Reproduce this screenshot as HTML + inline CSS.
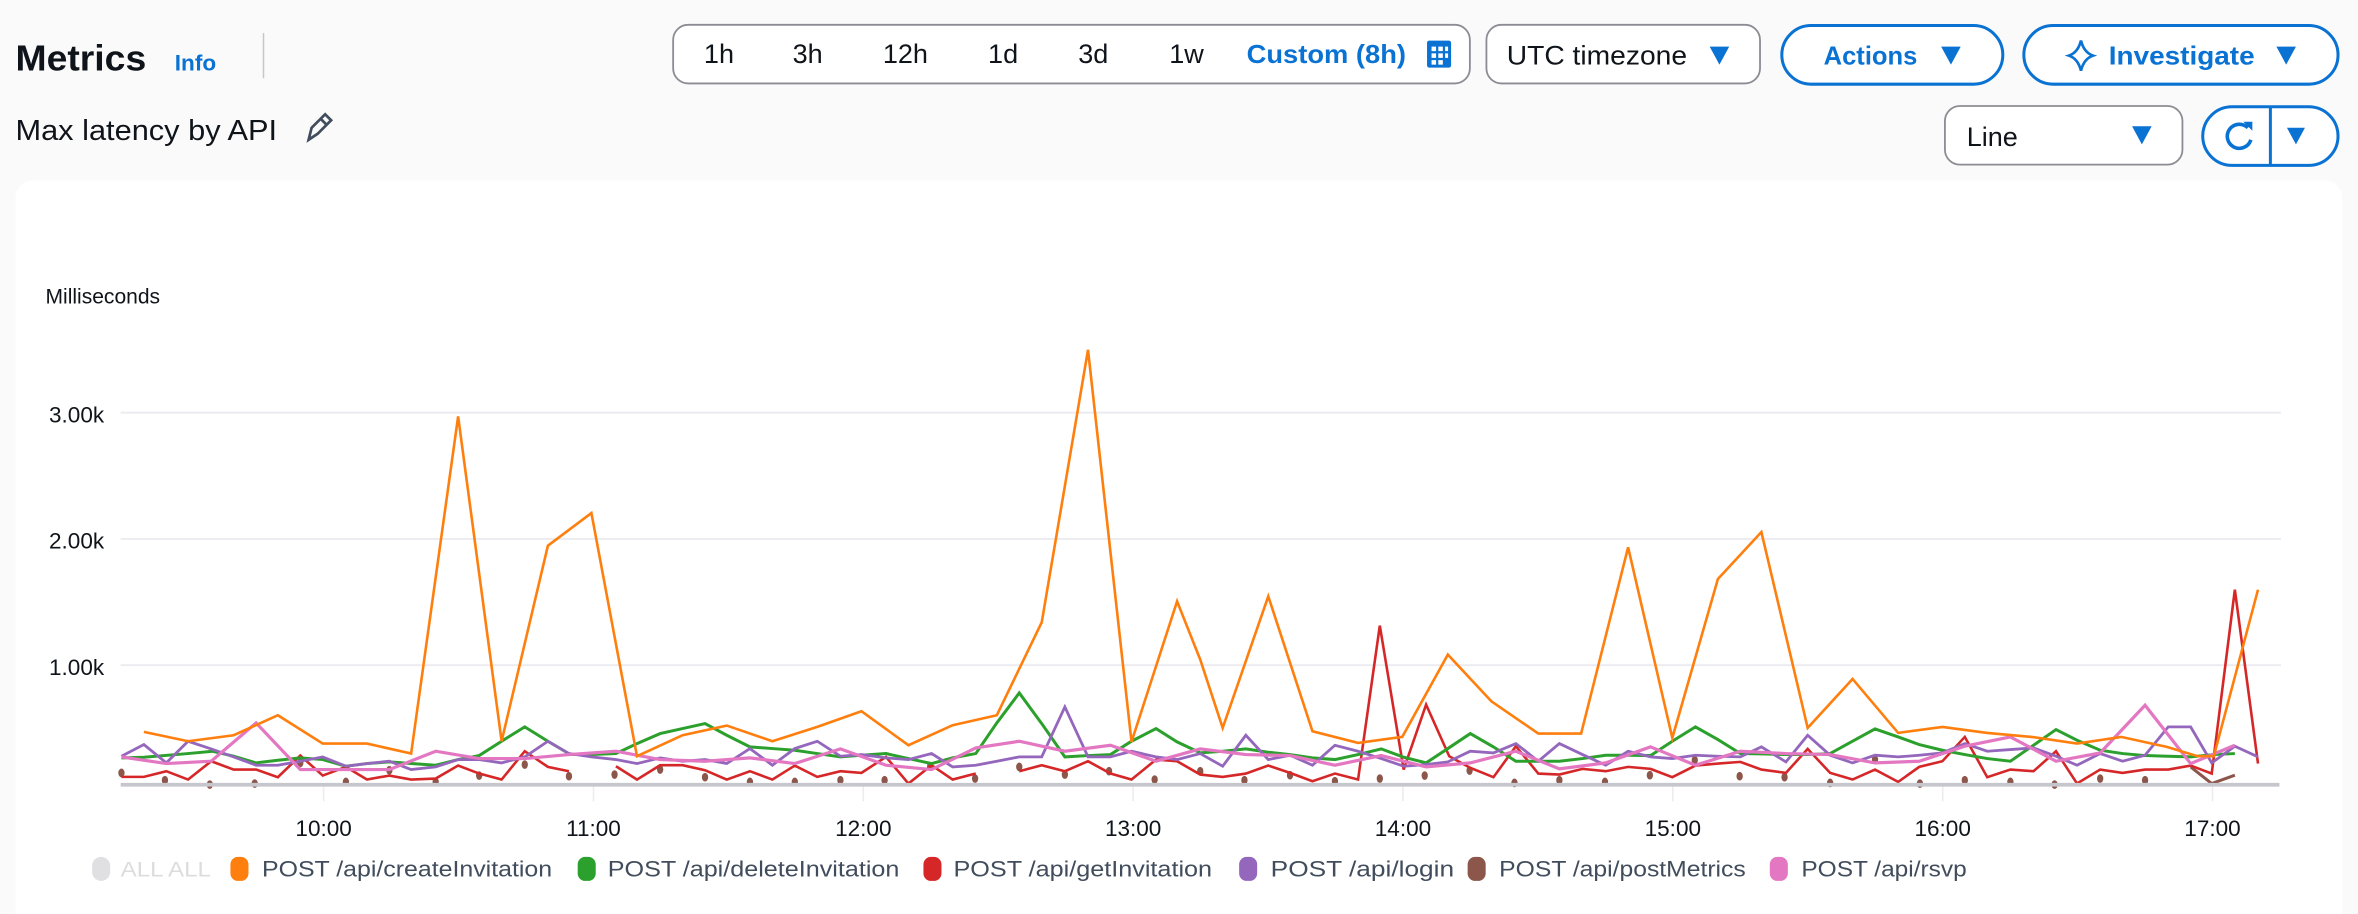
<!DOCTYPE html>
<html><head><meta charset="utf-8"><style>
html,body{margin:0;padding:0;background:#fafafa;}
svg{display:block;}
text{font-family:"Liberation Sans",sans-serif;}
.s{fill:none;vector-effect:non-scaling-stroke;stroke-linejoin:miter;}
</style></head><body>
<svg width="2358" height="914" viewBox="0 0 1568 608" xmlns="http://www.w3.org/2000/svg">
<rect width="1568" height="608" fill="#fafafa"/>
<!-- header -->
<text x="10" y="47" font-size="24" font-weight="bold" fill="#0f141a" textLength="87" lengthAdjust="spacingAndGlyphs">Metrics</text>
<text x="116" y="47" font-size="15" font-weight="bold" fill="#0972d3">Info</text>
<line x1="175" y1="22" x2="175" y2="52" stroke="#c6c6cd" stroke-width="1"/>
<rect x="447.5" y="16.5" width="530" height="39" rx="10" fill="#fff" stroke="#8c8c94" stroke-width="1.2"/>
<g font-size="18" fill="#0f141a" text-anchor="middle">
<text x="478" y="42">1h</text><text x="537" y="42">3h</text><text x="602" y="42">12h</text>
<text x="667" y="42">1d</text><text x="727" y="42">3d</text><text x="789" y="42">1w</text>
</g>
<text x="882" y="42" font-size="17" font-weight="bold" fill="#0972d3" text-anchor="middle" textLength="106" lengthAdjust="spacingAndGlyphs">Custom (8h)</text>
<rect x="949" y="27" width="16" height="18" rx="1.5" fill="#0972d3"/>
<g fill="#fff"><rect x="952" y="31" width="3" height="3"/><rect x="956.5" y="31" width="3" height="3"/><rect x="961" y="31" width="2" height="3"/>
<rect x="952" y="35.5" width="3" height="3"/><rect x="956.5" y="35.5" width="3" height="3"/><rect x="961" y="35.5" width="2" height="3"/>
<rect x="952" y="40" width="3" height="3"/><rect x="956.5" y="40" width="3" height="3"/></g>
<rect x="988.5" y="16.5" width="182" height="39" rx="10" fill="#fff" stroke="#8c8c94" stroke-width="1.2"/>
<text x="1002" y="43" font-size="18" fill="#0f141a" textLength="120" lengthAdjust="spacingAndGlyphs">UTC timezone</text>
<path d="M1137,31 L1150,31 L1143.5,43 Z" fill="#0972d3"/>
<rect x="1185" y="17" width="147" height="39" rx="19.5" fill="#fff" stroke="#0972d3" stroke-width="2"/>
<text x="1244" y="43" font-size="17" font-weight="bold" fill="#0972d3" text-anchor="middle">Actions</text>
<path d="M1291,31 L1304,31 L1297.5,43 Z" fill="#0972d3"/>
<rect x="1346" y="17" width="209" height="39" rx="19.5" fill="#fff" stroke="#0972d3" stroke-width="2"/>
<path d="M1384,27 Q1386,35 1392,37 Q1386,39 1384,47 Q1382,39 1376,37 Q1382,35 1384,27 Z" fill="none" stroke="#0972d3" stroke-width="1.8"/>
<text x="1451" y="43" font-size="17" font-weight="bold" fill="#0972d3" text-anchor="middle" textLength="97" lengthAdjust="spacingAndGlyphs">Investigate</text>
<path d="M1514,31 L1527,31 L1520.5,43 Z" fill="#0972d3"/>
<text x="10" y="93" font-size="19" fill="#0f141a" textLength="174" lengthAdjust="spacingAndGlyphs">Max latency by API</text>
<path d="M205,93 L207,85 L216,76 L220,80 L211,89 Z M213,79 L217,83" fill="none" stroke="#414d5c" stroke-width="1.8"/>
<rect x="1293.5" y="70.5" width="158" height="39" rx="10" fill="#fff" stroke="#8c8c94" stroke-width="1.2"/>
<text x="1308" y="97" font-size="18" fill="#0f141a">Line</text>
<path d="M1418,84 L1431,84 L1424.5,96 Z" fill="#0972d3"/>
<rect x="1465" y="71" width="90" height="39" rx="19.5" fill="#fff" stroke="#0972d3" stroke-width="2"/>
<line x1="1510" y1="71" x2="1510" y2="110" stroke="#0972d3" stroke-width="2"/>
<path d="M1495,85 A8,8 0 1 0 1497,93" fill="none" stroke="#0972d3" stroke-width="2.4"/>
<path d="M1492,81 L1498,81 L1498,87 Z" fill="#0972d3"/>
<path d="M1521,85 L1533,85 L1527,96 Z" fill="#0972d3"/>
<!-- card -->
<rect x="10" y="120" width="1548" height="500" rx="12" fill="#fff"/>
<text x="30" y="202" font-size="14" fill="#0f141a">Milliseconds</text>
<g font-size="15" fill="#0f141a" text-anchor="end">
<text x="69" y="281">3.00k</text><text x="69" y="365">2.00k</text><text x="69" y="449">1.00k</text>
</g>
<g stroke="#ebebf0" stroke-width="1.3">
<line x1="80" y1="274.5" x2="1517" y2="274.5"/><line x1="80" y1="358.5" x2="1517" y2="358.5"/><line x1="80" y1="442.5" x2="1517" y2="442.5"/>
</g>
<g stroke="#ebebf0" stroke-width="1">
<line x1="215" y1="522" x2="215" y2="533"/><line x1="394.5" y1="522" x2="394.5" y2="533"/><line x1="574" y1="522" x2="574" y2="533"/><line x1="753.5" y1="522" x2="753.5" y2="533"/>
<line x1="933" y1="522" x2="933" y2="533"/><line x1="1112.5" y1="522" x2="1112.5" y2="533"/><line x1="1292" y1="522" x2="1292" y2="533"/><line x1="1471.5" y1="522" x2="1471.5" y2="533"/>
</g>
<g font-size="15" fill="#0f141a" text-anchor="middle">
<text x="215" y="556">10:00</text><text x="394.5" y="556">11:00</text><text x="574" y="556">12:00</text><text x="753.5" y="556">13:00</text>
<text x="933" y="556">14:00</text><text x="1112.5" y="556">15:00</text><text x="1292" y="556">16:00</text><text x="1471.5" y="556">17:00</text>
</g>
<!-- series -->
<g transform="matrix(0.4666,0,0,0.2216,66.5,219.4)">
<g fill="#8c564b">
<ellipse cx="30" cy="1330" rx="4.5" ry="13"/><ellipse cx="92" cy="1352" rx="4.5" ry="13"/><ellipse cx="156" cy="1365" rx="4.5" ry="13"/><ellipse cx="220" cy="1362" rx="4.5" ry="13"/><ellipse cx="285" cy="1300" rx="4.5" ry="13"/><ellipse cx="350" cy="1357" rx="4.5" ry="13"/><ellipse cx="412" cy="1322" rx="4.5" ry="13"/><ellipse cx="478" cy="1357" rx="4.5" ry="13"/><ellipse cx="540" cy="1338" rx="4.5" ry="13"/><ellipse cx="605" cy="1305" rx="4.5" ry="13"/><ellipse cx="668" cy="1340" rx="4.5" ry="13"/><ellipse cx="733" cy="1335" rx="4.5" ry="13"/><ellipse cx="798" cy="1320" rx="4.5" ry="13"/><ellipse cx="862" cy="1343" rx="4.5" ry="13"/><ellipse cx="926" cy="1357" rx="4.5" ry="13"/><ellipse cx="990" cy="1357" rx="4.5" ry="13"/><ellipse cx="1055" cy="1352" rx="4.5" ry="13"/><ellipse cx="1118" cy="1352" rx="4.5" ry="13"/><ellipse cx="1183" cy="1310" rx="4.5" ry="13"/><ellipse cx="1247" cy="1347" rx="4.5" ry="13"/><ellipse cx="1310" cy="1312" rx="4.5" ry="13"/><ellipse cx="1375" cy="1335" rx="4.5" ry="13"/><ellipse cx="1438" cy="1325" rx="4.5" ry="13"/><ellipse cx="1503" cy="1350" rx="4.5" ry="13"/>
<ellipse cx="1568" cy="1325" rx="4.5" ry="13"/><ellipse cx="1631" cy="1352" rx="4.5" ry="13"/><ellipse cx="1696" cy="1337" rx="4.5" ry="13"/><ellipse cx="1760" cy="1355" rx="4.5" ry="13"/><ellipse cx="1824" cy="1347" rx="4.5" ry="13"/><ellipse cx="1888" cy="1338" rx="4.5" ry="13"/><ellipse cx="1952" cy="1323" rx="4.5" ry="13"/><ellipse cx="2016" cy="1360" rx="4.5" ry="13"/><ellipse cx="2080" cy="1352" rx="4.5" ry="13"/><ellipse cx="2145" cy="1357" rx="4.5" ry="13"/><ellipse cx="2209" cy="1337" rx="4.5" ry="13"/><ellipse cx="2273" cy="1292" rx="4.5" ry="13"/><ellipse cx="2337" cy="1340" rx="4.5" ry="13"/><ellipse cx="2401" cy="1343" rx="4.5" ry="13"/><ellipse cx="2466" cy="1360" rx="4.5" ry="13"/><ellipse cx="2530" cy="1290" rx="4.5" ry="13"/><ellipse cx="2594" cy="1362" rx="4.5" ry="13"/><ellipse cx="2658" cy="1352" rx="4.5" ry="13"/><ellipse cx="2723" cy="1357" rx="4.5" ry="13"/><ellipse cx="2786" cy="1365" rx="4.5" ry="13"/><ellipse cx="2851" cy="1347" rx="4.5" ry="13"/><ellipse cx="2915" cy="1352" rx="4.5" ry="13"/>
</g>
<path class="s" stroke="#8c564b" stroke-width="3" d="M2980,1312 L3010,1362 3043,1337"/>
<path class="s" stroke="#d62728" stroke-width="2.6" d="M30,1342 L62,1342 94,1325 125,1350 158,1295 190,1320 222,1320 253,1343 285,1278 317,1338 350,1312 380,1350 412,1338 443,1350 478,1347 510,1308 540,1332 572,1350 605,1265 638,1312 668,1325 M735,1310 L765,1350 798,1307 830,1307 862,1322 893,1350 926,1325 958,1350 990,1308 1022,1342 1055,1325 1085,1330 1120,1282 1152,1362 1185,1307 1215,1350 1248,1332 M1310,1325 L1342,1307 1375,1325 1408,1295 1440,1332 1470,1350 1505,1290 1535,1295 1568,1335 1600,1342 1633,1332 1665,1308 1696,1330 1728,1355 1760,1332 1793,1350 1824,888 1858,1320 1890,1125 1923,1280 1953,1315 1986,1343 2018,1250 2050,1332 2080,1335 2113,1318 2146,1325 2178,1312 2210,1318 2241,1343 2274,1308 2306,1302 2338,1297 2368,1320 2403,1330 2434,1258 2466,1330 2498,1350 2530,1320 2563,1357 2593,1312 2626,1295 2658,1222 2690,1343 2723,1320 2756,1325 2788,1265 2818,1362 2851,1320 2883,1330 2915,1320 2948,1320 2980,1308 3010,1332 3043,780 3076,1302"/>
<path class="s" stroke="#2ca02c" stroke-width="3" d="M30,1285 L62,1283 125,1272 160,1265 190,1280 222,1300 253,1292 285,1285 317,1290 350,1310 380,1302 412,1297 443,1302 478,1307 510,1290 540,1278 572,1235 605,1192 638,1235 670,1275 700,1275 735,1272 765,1242 798,1212 830,1197 862,1182 893,1217 926,1252 958,1257 990,1262 1022,1272 1055,1282 1085,1277 1120,1272 1152,1287 1185,1302 1215,1285 1248,1272 1278,1180 1310,1090 1342,1182 1375,1282 1408,1278 1440,1275 1470,1235 1505,1197 1535,1237 1568,1270 1600,1265 1633,1258 1665,1268 1696,1275 1728,1285 1760,1290 1793,1275 1826,1258 1858,1283 1890,1300 1921,1257 1953,1212 1986,1252 2018,1295 2050,1295 2080,1295 2113,1287 2146,1277 2178,1277 2210,1278 2241,1235 2274,1192 2306,1230 2338,1272 2368,1273 2403,1275 2434,1275 2466,1272 2498,1235 2530,1198 2563,1222 2593,1245 2626,1262 2658,1275 2690,1287 2723,1295 2756,1247 2788,1200 2818,1232 2851,1262 2883,1272 2915,1278 2948,1280 2980,1282 3013,1275 3043,1272"/>
<path class="s" stroke="#9467bd" stroke-width="2.8" d="M30,1280 L62,1245 94,1300 125,1235 158,1258 190,1282 222,1307 253,1307 285,1295 317,1282 350,1310 380,1302 412,1295 443,1320 478,1312 510,1290 540,1290 572,1300 605,1282 638,1235 668,1272 700,1282 735,1290 765,1302 798,1285 830,1295 862,1290 893,1302 926,1257 958,1307 990,1257 1022,1235 1055,1280 1085,1275 1120,1285 1152,1290 1185,1272 1215,1312 1248,1307 1278,1295 1310,1282 1342,1282 1375,1132 1408,1282 1440,1282 1470,1265 1505,1282 1535,1290 1568,1272 1600,1310 1633,1217 1665,1290 1696,1277 1728,1307 1760,1247 1793,1265 1826,1287 1858,1310 1890,1305 1921,1297 1953,1265 1986,1270 2018,1242 2050,1295 2080,1242 2113,1275 2146,1307 2178,1265 2210,1282 2241,1287 2274,1277 2306,1280 2338,1282 2368,1252 2403,1297 2434,1217 2466,1277 2498,1300 2530,1277 2563,1282 2593,1277 2626,1270 2658,1242 2690,1265 2723,1260 2756,1255 2788,1280 2818,1307 2851,1272 2883,1295 2915,1277 2948,1192 2980,1192 3010,1300 3043,1250 3076,1282"/>
<path class="s" stroke="#e377c2" stroke-width="3.2" d="M30,1282 L94,1302 158,1295 222,1180 285,1320 350,1320 412,1320 478,1265 540,1287 605,1287 668,1275 735,1265 798,1290 862,1295 926,1285 990,1302 1055,1258 1120,1307 1185,1320 1248,1255 1310,1235 1375,1265 1440,1247 1505,1295 1568,1258 1633,1275 1696,1278 1760,1307 1826,1278 1890,1312 1953,1300 2018,1265 2080,1318 2146,1300 2210,1252 2274,1307 2338,1265 2403,1272 2466,1275 2530,1300 2593,1295 2658,1250 2723,1222 2788,1295 2851,1270 2915,1127 2980,1302 3043,1247"/>
<path class="s" stroke="#ff7f0e" stroke-width="2.6" d="M62,1207 L125,1235 190,1217 253,1157 317,1242 380,1242 443,1272 510,260 572,1235 638,648 700,550 765,1280 830,1217 893,1188 958,1235 1022,1192 1085,1145 1152,1247 1215,1187 1278,1157 1342,878 1408,60 1470,1237 1535,815 1568,990 1600,1195 1665,800 1728,1205 1793,1240 1856,1222 1921,975 1983,1115 2050,1212 2111,1212 2178,653 2241,1225 2306,748 2368,607 2434,1195 2498,1048 2563,1210 2626,1192 2690,1210 2753,1222 2818,1242 2881,1222 2946,1252 2990,1280 3013,1280 3076,780"/>
</g>
<line x1="80" y1="522" x2="1516" y2="522" stroke="#c6c6cd" stroke-width="2.5"/>
<!-- legend -->
<rect x="61" y="570" width="12" height="16" rx="6" fill="#e0e0e3"/>
<text x="80" y="583" font-size="14" fill="#dcdcde" textLength="60" lengthAdjust="spacingAndGlyphs">ALL ALL</text>
<rect x="153" y="570" width="12" height="16" rx="5" fill="#ff7f0e"/>
<text x="174" y="583" font-size="15" fill="#414d5c" textLength="193" lengthAdjust="spacingAndGlyphs">POST /api/createInvitation</text>
<rect x="384" y="570" width="12" height="16" rx="5" fill="#2ca02c"/>
<text x="404" y="583" font-size="15" fill="#414d5c" textLength="194" lengthAdjust="spacingAndGlyphs">POST /api/deleteInvitation</text>
<rect x="614" y="570" width="12" height="16" rx="5" fill="#d62728"/>
<text x="634" y="583" font-size="15" fill="#414d5c" textLength="172" lengthAdjust="spacingAndGlyphs">POST /api/getInvitation</text>
<rect x="824" y="570" width="12" height="16" rx="5" fill="#9467bd"/>
<text x="845" y="583" font-size="15" fill="#414d5c" textLength="122" lengthAdjust="spacingAndGlyphs">POST /api/login</text>
<rect x="976" y="570" width="12" height="16" rx="5" fill="#8c564b"/>
<text x="997" y="583" font-size="15" fill="#414d5c" textLength="164" lengthAdjust="spacingAndGlyphs">POST /api/postMetrics</text>
<rect x="1177" y="570" width="12" height="16" rx="5" fill="#e377c2"/>
<text x="1198" y="583" font-size="15" fill="#414d5c" textLength="110" lengthAdjust="spacingAndGlyphs">POST /api/rsvp</text>
</svg>
</body></html>
